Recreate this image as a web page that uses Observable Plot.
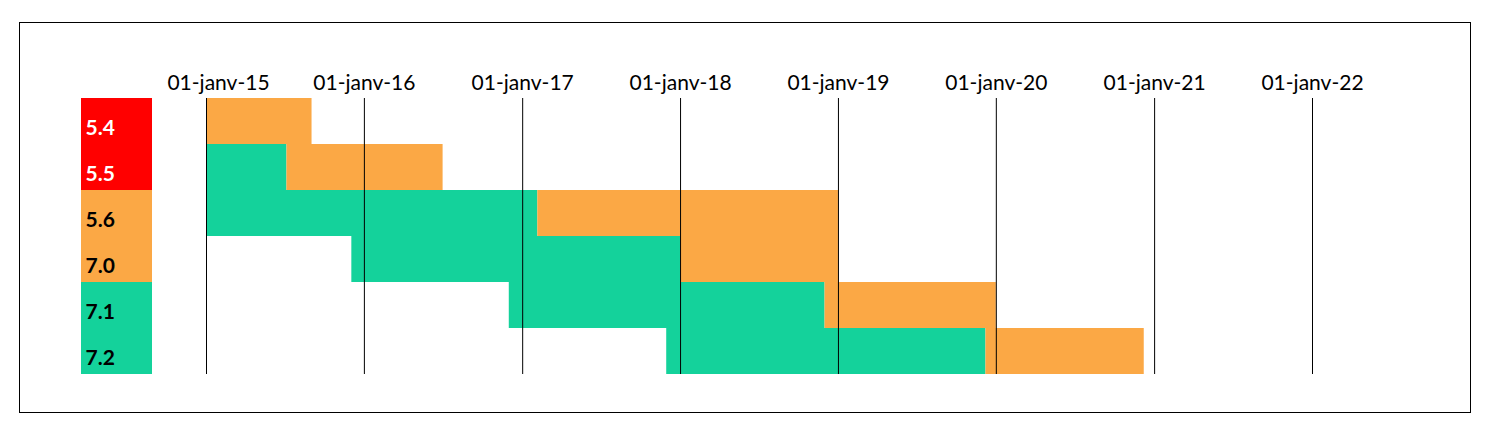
<!DOCTYPE html>
<html>
<head>
<meta charset="utf-8">
<script src="https://cdn.jsdelivr.net/npm/d3@7"></script>
<script src="https://cdn.jsdelivr.net/npm/@observablehq/plot@0.6"></script>
<style>
  html, body { margin: 0; padding: 0; background: #fff; }
  #wrap { position: relative; width: 1490px; height: 436px; overflow: hidden; }
  #frame { position: absolute; left: 19px; top: 22px; width: 1452px; height: 391px; box-sizing: border-box; border: 1.3px solid #000; }
  #labels { position: absolute; left: 0; top: 0; }
  #main { position: absolute; left: 160px; top: 0; }
  svg { font-family: Lato, "Open Sans", sans-serif; }
</style>
</head>
<body>
<div id="wrap">
  <div id="frame"></div>
  <div id="labels"></div>
  <div id="main"></div>
</div>
<script>
// ---- data ----
const versions = ["5.4", "5.5", "5.6", "7.0", "7.1", "7.2"];
const versionStatus = ["eol", "eol", "security", "security", "active", "active"];
const activeStart = [null, "2015-01-01", "2015-01-01", "2015-12-03", "2016-12-01", "2017-11-30"];
const activeEnd = [null, "2015-07-06", "2017-02-05", "2018-01-01", "2018-12-01", "2019-12-08"];
const securityStart = ["2015-01-01", "2015-07-06", "2017-02-05", "2018-01-01", "2018-12-01", "2019-12-08"];
const securityEnd = ["2015-09-02", "2016-07-01", "2019-01-01", "2019-01-01", "2020-01-01", "2020-12-08"];
const tickDates = ["2015-01-01", "2016-01-01", "2017-01-01", "2018-01-01", "2019-01-01", "2020-01-01", "2021-01-01", "2022-01-01"];
const tickLabels = ["01-janv-15", "01-janv-16", "01-janv-17", "01-janv-18", "01-janv-19", "01-janv-20", "01-janv-21", "01-janv-22"];

const colors = { eol: "#FF0000", security: "#FBA845", active: "#14D29B" };

const parse = d3.utcParse("%Y-%m-%d");
const segments = [];
versions.forEach((v, i) => {
  if (activeStart[i]) segments.push({ version: v, kind: "active", start: parse(activeStart[i]), end: parse(activeEnd[i]) });
  if (securityStart[i]) segments.push({ version: v, kind: "security", start: parse(securityStart[i]), end: parse(securityEnd[i]) });
});
const ticks = tickDates.map((d, i) => ({ date: parse(d), label: tickLabels[i] }));
const labelRows = versions.map((v, i) => ({ version: v, status: versionStatus[i] }));

// ---- label column ----
const labelPlot = Plot.plot({
  width: 160,
  height: 436,
  marginLeft: 81,
  marginRight: 8,
  marginTop: 98,
  marginBottom: 62,
  style: { background: "transparent", fontFamily: "Lato, 'Open Sans', sans-serif" },
  x: { axis: null, padding: 0 },
  y: { axis: null, domain: versions, padding: 0 },
  color: { domain: Object.keys(colors), range: Object.values(colors) },
  marks: [
    Plot.cell(labelRows, { x: () => "v", y: "version", fill: "status" }),
    Plot.text(labelRows, {
      y: "version",
      text: "version",
      frameAnchor: "left",
      lineAnchor: "middle",
      dx: 4,
      dy: 7,
      fontSize: 21,
      fontWeight: "bold",
      fill: d => d.status === "eol" ? "#fff" : "#000"
    })
  ]
});
document.getElementById("labels").appendChild(labelPlot);

// ---- main timeline ----
const mainPlot = Plot.plot({
  width: 1300,
  height: 436,
  marginLeft: 46,
  marginRight: 148,
  marginTop: 98,
  marginBottom: 62,
  style: { background: "transparent", fontFamily: "Lato, 'Open Sans', sans-serif" },
  x: { type: "utc", domain: [parse(tickDates[0]), parse(tickDates[tickDates.length - 1])], axis: null },
  y: { axis: null, domain: versions, padding: 0 },
  color: { domain: Object.keys(colors), range: Object.values(colors) },
  marks: [
    Plot.barX(segments, { y: "version", x1: "start", x2: "end", fill: "kind" }),
    Plot.ruleX(ticks, { x: "date", stroke: "#000", strokeWidth: 1 }),
    Plot.text(ticks.slice(0, 1), { x: "date", text: "label", frameAnchor: "top", lineAnchor: "middle", dy: -15, dx: 12, fontSize: 21, fill: "#000" }),
    Plot.text(ticks.slice(1), { x: "date", text: "label", frameAnchor: "top", lineAnchor: "middle", dy: -15, fontSize: 21, fill: "#000" })
  ]
});
document.getElementById("main").appendChild(mainPlot);
</script>
</body>
</html>
